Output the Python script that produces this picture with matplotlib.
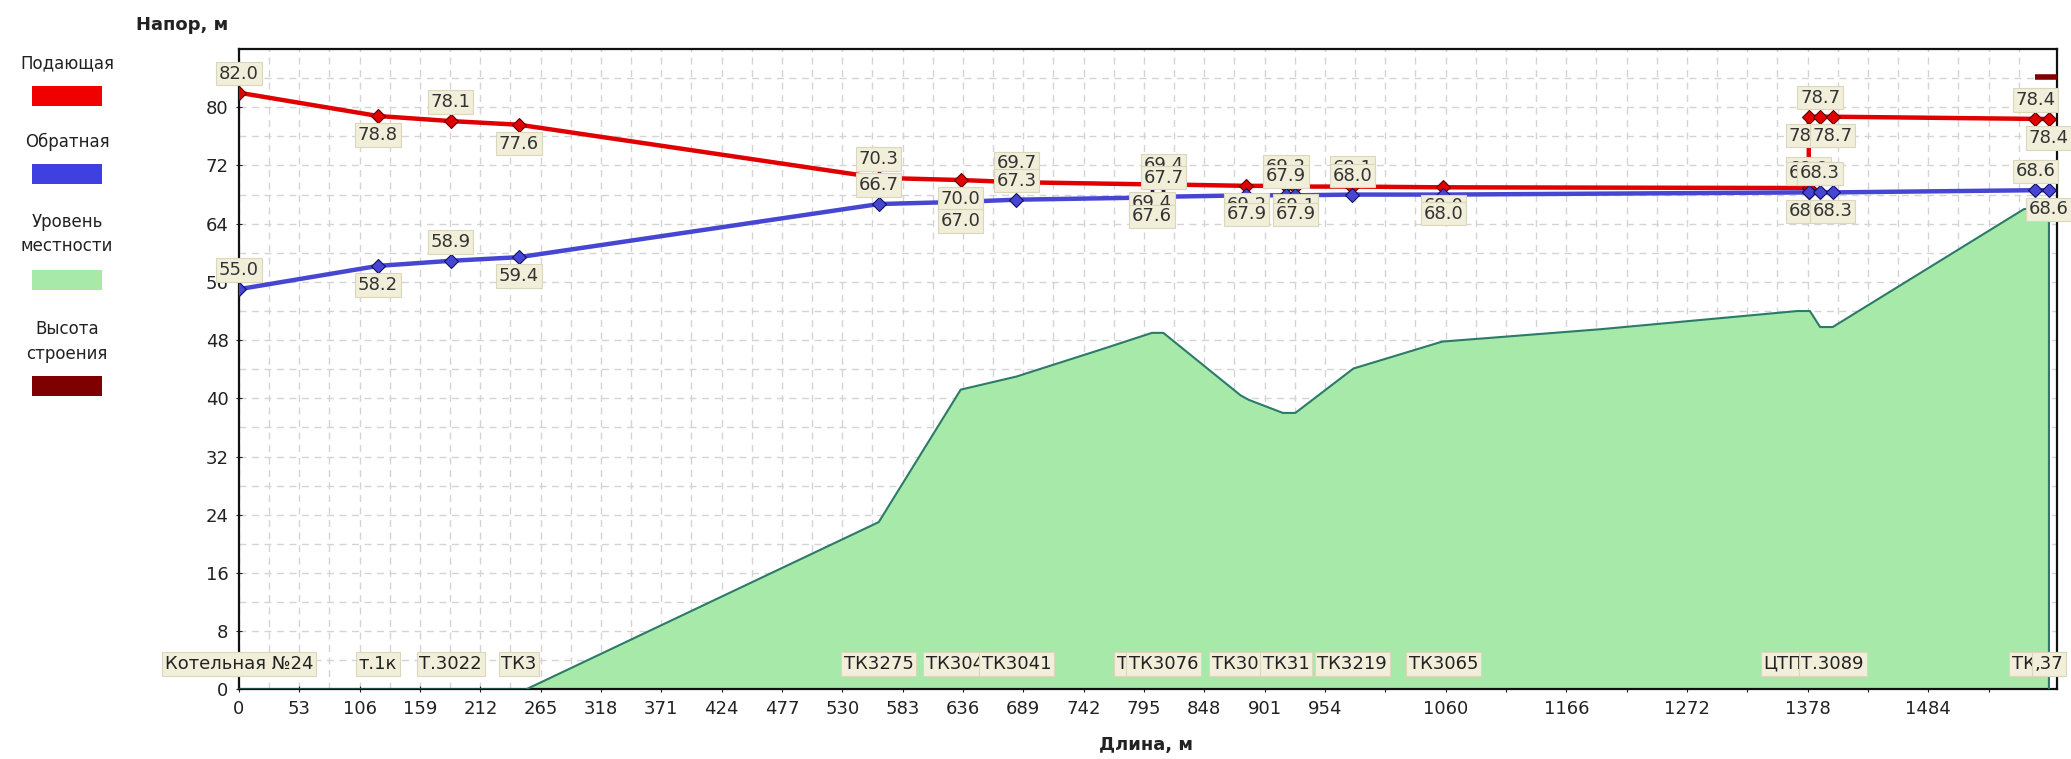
import matplotlib
matplotlib.use('Agg')
import matplotlib.pyplot as plt
import matplotlib.patches as mpatches
from matplotlib.transforms import blended_transform_factory

# узлы трассы, длина от котельной (м)
node_x = [0, 122, 186, 246, 562, 634, 683, 802, 812, 885, 920, 928, 978, 1058,
          1379, 1379, 1389, 1400, 1578, 1590]
supply_head = [82.0, 78.8, 78.1, 77.6, 70.3, 70.0, 69.7, 69.4, 69.4, 69.2, 69.2, 69.1,
               69.1, 69.0, 68.9, 78.7, 78.7, 78.7, 78.4, 78.4]
return_head = [55.0, 58.2, 58.9, 59.4, 66.7, 67.0, 67.3, 67.6, 67.7, 67.9, 67.9, 67.9,
               68.0, 68.0, 68.3, 68.3, 68.3, 68.3, 68.6, 68.6]
node_names = ['Котельная №24', 'т.1к', 'Т.3022', 'ТК3', 'ТК3275', 'ТК3040', 'ТК3041',
              'ТК3071', 'ТК3076', 'ТК3078', 'ТК31', '', 'ТК3219', 'ТК3065',
              'ЦТП-3088', '', '', 'Т.3089', 'ТК37', ',37']

# профиль местности
terrain_x = [0, 252, 562, 634, 683, 757, 802, 812, 880, 887, 917, 928, 979, 1057,
             1196, 1369, 1380, 1389, 1400, 1568, 1590, 1590]
terrain_z = [0, 0, 23.0, 41.2, 43.0, 46.7, 49.0, 49.0, 40.4, 39.8, 38.0, 38.0, 44.1,
             47.8, 49.5, 52.0, 52.0, 49.8, 49.8, 66.0, 66.4, 0]

# высота строения
building_x = [1578, 1597]
building_z = [84.2, 84.2]

x_ticks = [0, 53, 106, 159, 212, 265, 318, 371, 424, 477, 530, 583, 636, 689, 742,
           795, 848, 901, 954, 1007, 1060, 1113, 1166, 1219, 1272, 1325, 1378, 1431,
           1484, 1537]
x_tick_labels = ['0', '53', '106', '159', '212', '265', '318', '371', '424', '477',
                 '530', '583', '636', '689', '742', '795', '848', '901', '954', '',
                 '1060', '', '1166', '', '1272', '', '1378', '', '1484', '']
y_ticks = [0, 8, 16, 24, 32, 40, 48, 56, 64, 72, 80]

legend_names = ['Подающая', 'Обратная', 'Уровень\nместности', 'Высота\nстроения']
legend_colors = ['#F00000', '#4040E0', '#A6E9A8', '#7F0000']

RED = '#E00000'
BLUE = '#4646D2'
BOX = dict(boxstyle='square,pad=0.15', fc='#F1EFD9', ec='#DAD7BC', lw=0.8)


def main():
    fig = plt.figure(figsize=(20.71, 7.59), dpi=100)
    ax = fig.add_axes([0.1154, 0.0916, 0.8778, 0.8438])

    ax.set_xlim(0, 1597)
    ax.set_ylim(0, 88)

    # сетка
    ax.set_xticks(x_ticks)
    ax.set_xticklabels(x_tick_labels)
    ax.set_xticks([t + 26.5 for t in x_ticks], minor=True)
    ax.set_yticks(y_ticks)
    ax.set_yticks([t + 4 for t in y_ticks], minor=True)
    ax.grid(which='both', color='#D4D4D4', linestyle=(0, (5, 4)), lw=1.0)
    ax.set_axisbelow(True)
    ax.tick_params(axis='both', which='major', labelsize=13, length=5, pad=5,
                   colors='#222222', direction='inout')
    ax.tick_params(axis='both', which='minor', length=0)
    for s in ax.spines.values():
        s.set_linewidth(1.6)
        s.set_color('#111111')

    # местность
    ax.fill_between(terrain_x, 0, terrain_z, facecolor='#A6E9A8', edgecolor='none', zorder=2)
    ax.plot(terrain_x, terrain_z, color='#2D7A6A', lw=1.5, zorder=3)

    # строение
    ax.plot(building_x, building_z, color='#7F0000', lw=4, solid_capstyle='butt', zorder=3)

    # пьезометры
    ax.plot(node_x, supply_head, color=RED, lw=3.2, marker='D', ms=7,
            mfc=RED, mec='#600000', mew=0.8, zorder=4)
    ax.plot(node_x, return_head, color=BLUE, lw=3.2, marker='D', ms=7,
            mfc=BLUE, mec='#101060', mew=0.8, zorder=4)

    # подписи напоров
    for i, x in enumerate(node_x):
        if i % 2 == 0:
            dy, va = 10, 'bottom'
        else:
            dy, va = -10, 'top'
        for vals in (supply_head, return_head):
            ax.annotate('%.1f' % vals[i], (x, vals[i]), xytext=(0, dy),
                        textcoords='offset pixels', ha='center', va=va,
                        fontsize=13, color='#333333', bbox=BOX, zorder=5,
                        annotation_clip=False)

    # названия узлов
    trans = blended_transform_factory(ax.transData, ax.transAxes)
    for x, name in zip(node_x, node_names):
        if name:
            ax.text(x, 0.04, name, transform=trans, ha='center', va='center',
                    fontsize=13, color='#222222', bbox=BOX, zorder=5, clip_on=False)

    fig.text(0.0879, 0.967, 'Напор, м', ha='center', va='center', fontsize=13,
             fontweight='bold', color='#222222')
    fig.text(0.5533, 0.018, 'Длина, м', ha='center', va='center', fontsize=13,
             fontweight='bold', color='#222222')

    # легенда слева
    leg_y = [0.917, 0.813, 0.692, 0.550]
    for name, col, y in zip(legend_names, legend_colors, leg_y):
        fig.text(0.0324, y, name, ha='center', va='center', fontsize=12,
                 color='#222222', linespacing=1.45)
    patch_y = [0.861, 0.758, 0.618, 0.478]
    for col, y in zip(legend_colors, patch_y):
        fig.patches.append(mpatches.Rectangle((0.0155, y), 0.0338, 0.026,
                                              transform=fig.transFigure,
                                              facecolor=col, edgecolor='none'))

    plt.savefig('out.png')


if __name__ == '__main__':
    main()
